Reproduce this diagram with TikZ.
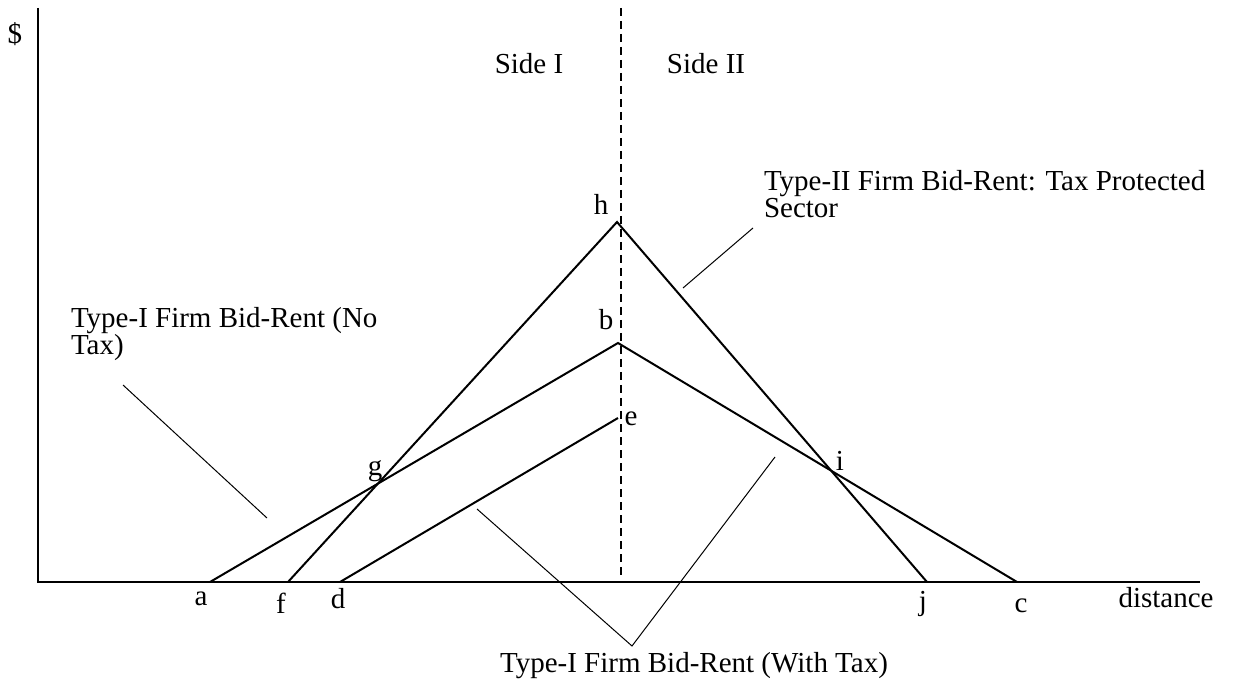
\documentclass[tikz,border=0pt]{standalone}
\usepackage{fontspec}
\setmainfont{Liberation Serif}
\begin{document}
\begin{tikzpicture}[x=1pt,y=-1pt,line width=2pt,
    lbl/.style={inner sep=0pt,anchor=base,font=\fontsize{29}{27}\selectfont},
    leader/.style={line width=1pt}]
    \useasboundingbox (0,0) rectangle (1234,684);

    \coordinate (O) at (38,582);
    \coordinate (Ytop) at (38,8);
    \coordinate (Xend) at (1200,582);
    \coordinate (Dtop) at (621,8);
    \coordinate (Dbot) at (621,578);

    \coordinate (A) at (210,582);
    \coordinate (F) at (288,582);
    \coordinate (D) at (340,582);
    \coordinate (J) at (927,582);
    \coordinate (C) at (1017,582);
    \coordinate (H) at (617,222);
    \coordinate (B) at (618,343);
    \coordinate (E) at (618,418);

    \coordinate (L1a) at (683,288);
    \coordinate (L1b) at (753,228);
    \coordinate (L2a) at (123,385);
    \coordinate (L2b) at (267,518);
    \coordinate (L3a) at (477,509);
    \coordinate (L3m) at (632,646);
    \coordinate (L3b) at (775,457);

    \draw[line width=2.5pt] (Ytop) -- (O) -- (Xend);
    \draw[dash pattern=on 8pt off 5pt] (Dtop) -- (Dbot);

    \draw (A) -- (B) -- (C);
    \draw (F) -- (H) -- (J);
    \draw (D) -- (E);

    \draw[leader] (L1a) -- (L1b);
    \draw[leader] (L2a) -- (L2b);
    \draw[leader] (L3a) -- (L3m) -- (L3b);

    \node[lbl] (dollar) at (15,44) {\$};
    \node[lbl] (side1) at (529,74) {Side I};
    \node[lbl] (side2) at (706,74) {Side II};
    \node[lbl] (dist) at (1166,607) {distance};

    \node[lbl] (hl) at (601,215) {h};
    \node[lbl] (bl) at (606,330) {b};
    \node[lbl] (el) at (631,425) {e};
    \node[lbl] (gl) at (375,475) {g};
    \node[lbl] (il) at (840,470) {i};
    \node[lbl] (al) at (201,605) {a};
    \node[lbl] (fl) at (281,613) {f};
    \node[lbl] (dl) at (338,608) {d};
    \node[lbl] (jl) at (923,610) {j};
    \node[lbl] (cl) at (1021,612) {c};

    \node[lbl,anchor=base west,align=left] (type2) at (763,218)
        {Type-II Firm Bid-Rent: Tax Protected\\Sector};
    \node[lbl,anchor=base west,align=left] (notax) at (70,355)
        {Type-I Firm Bid-Rent (No\\Tax)};
    \node[lbl] (withtax) at (694,672) {Type-I Firm Bid-Rent (With Tax)};
\end{tikzpicture}
\end{document}
